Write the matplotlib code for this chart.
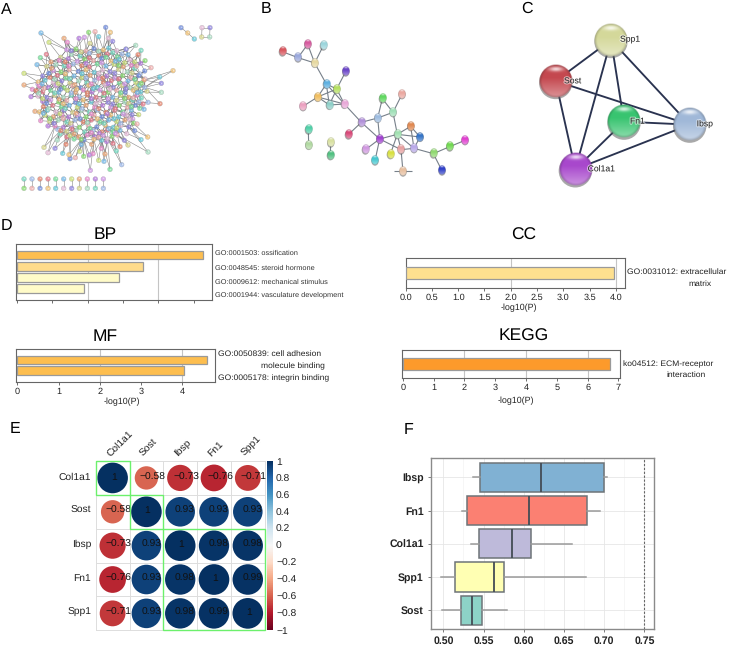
import numpy as np
import matplotlib
matplotlib.use("Agg")
import matplotlib.pyplot as plt
from matplotlib.collections import LineCollection
from matplotlib.colors import to_rgb, Normalize
from matplotlib.cm import ScalarMappable
from matplotlib.patches import Ellipse, Circle, Rectangle
import matplotlib.patheffects as pe

plt.rcParams['font.family'] = ['Liberation Sans', 'DejaVu Sans']
plt.rcParams['text.hinting'] = 'no_hinting'

W, H = 745, 646

# DATA ---------------------------------------------------------------------
# A: big network, read in a 720x645 frame
a_outer = [(123,99),(147,127),(192,115),(202,127),(237,115),(253,112),(266,97),(285,95),(317,82),
           (331,97),(296,110),(325,115),(338,124),(270,130),(407,136),(423,151),(378,147),(414,164),
           (139,163),(121,173),(111,194),(72,220),(72,255),(97,268),(93,290),(114,252),(435,182),
           (453,203),(434,213),(519,212),(479,231),(435,237),(484,250),(441,274),(484,277),(424,294),
           (444,307),(480,311),(429,312),(419,325),(432,328),(416,344),(105,334),(122,362),(144,378),
           (398,357),(401,369),(411,372),(404,392),(443,411),(423,419),(380,401),(373,421),(384,435),
           (444,456),(349,453),(365,494),(360,440),(339,430),(330,508),(312,484),(296,481),(315,462),
           (279,461),(268,465),(271,511),(251,469),(226,473),(210,476),(207,464),(188,460),(144,458),
           (165,445),(132,442),(172,420),(180,402),(173,388),(198,433),(200,411),(222,417),(244,434),
           (239,454),(275,433),(304,445),(320,425)]
a_core = [(200,149),(228,147),(258,153),(282,146),(310,150),(326,144),(350,152),(378,148),
          (182,172),(214,163),(240,168),(268,160),(296,166),(322,162),(352,170),(384,164),(404,186),
          (153,186),(178,181),(205,176),(232,184),(254,178),(280,182),(305,175),(333,183),(358,178),(390,180),
          (128,228),(140,199),(168,194),(192,198),(220,192),(245,197),(268,201),(292,192),(318,198),(342,193),(370,200),(394,196),(422,190),
          (160,212),(183,216),(208,209),(235,214),(258,209),(283,217),(308,210),(330,215),(356,208),(382,216),(404,206),(420,222),
          (150,232),(172,226),(198,234),(222,228),(246,233),(270,226),(296,235),(320,228),(344,234),(368,227),(392,233),(416,227),
          (115,246),(135,241),(160,248),(185,243),(210,249),(236,243),(260,248),(284,241),(310,247),(334,242),(358,249),(384,243),(408,248),(432,240),
          (118,258),(145,262),(168,256),(192,263),(218,257),(242,263),(266,256),(292,262),(316,255),(340,262),(366,257),(390,263),(418,256),(434,262),
          (108,272),(128,276),(152,271),(176,277),(202,271),(226,277),(250,270),(276,276),(300,270),(324,277),(350,271),(376,277),(400,271),(422,276),
          (114,288),(140,292),(164,286),(190,292),(214,286),(238,291),(262,285),(288,292),(312,286),(338,292),(362,286),(386,292),(410,286),
          (128,304),(152,300),(176,306),(200,301),(226,307),(250,300),(274,306),(300,300),(324,307),(350,301),(374,306),(398,300),(416,306),
          (130,320),(158,316),(184,321),(208,316),(232,322),(258,316),(284,322),(308,316),(332,322),(358,316),(382,322),(406,316),
          (118,336),(142,331),(168,336),(192,331),(218,337),(244,331),(268,336),(292,330),(318,337),(344,331),(368,336),(394,331),
          (135,346),(160,350),(186,345),(206,351),(232,345),(258,351),(282,345),(306,350),(332,345),(356,351),(380,346),(396,344),
          (148,364),(175,360),(200,366),(225,360),(250,366),(274,360),(300,366),(326,360),(350,365),(375,360),
          (165,378),(190,382),(214,376),(238,382),(265,376),(290,381),(316,376),(340,382),(362,377),(386,381),
          (200,394),(228,391),(254,396),(280,391),(306,396),(322,390),(338,395),(360,391),
          (210,407),(236,410),(262,405),(284,410),(310,406),(336,409),(352,405),
          (252,420),(282,418),(305,421),(322,416)]
a_core2 = [(214,152),(244,156),(296,154),(338,158),(366,162),(196,186),(268,174),(318,172),(346,184),(374,188),
           (155,205),(206,198),(258,190),(305,188),(356,196),(410,198),(146,220),(196,222),(246,221),(296,221),(344,220),(396,219),
           (164,238),(210,236),(258,234),(308,234),(356,237),(404,238),(126,252),(174,251),(224,254),(274,252),(324,251),(374,252),(424,250),
           (132,266),(182,268),(230,268),(280,266),(330,268),(378,266),(408,264),(116,280),(164,279),(214,279),(262,278),(312,280),(362,278),(412,278),
           (128,296),(178,298),(228,296),(274,296),(324,296),(374,296),(400,294),(140,310),(190,311),(238,312),(288,310),(338,312),(386,310),
           (146,326),(196,326),(246,326),(296,326),(346,326),(394,320),(130,340),(180,342),(228,340),(274,342),(322,342),(370,342),
           (150,356),(190,356),(240,356),(292,356),(342,356),(388,358),(162,370),(212,370),(262,368),(312,370),(362,370),
           (182,392),(216,388),(270,385),(326,386),(350,384),(222,402),(274,398),(298,400),(346,400),(244,418),(296,412)]
a_rows_x = [72,96,120,144,167,191,215,238,262,286,310]
a_rows_y = [537,565]
a_small_x = [543,563,583,606,630,605,629]
a_small_y = [83,99,117,83,83,111,111]
a_small_edges = [(0,1),(1,2),(3,4),(3,5),(4,6),(5,6)]
a_palette = ['#78bcea','#ec8cce','#8cdf74','#f2c47a','#9488e4','#76dac2','#e67c8c','#cde27a',
             '#b87ee0','#f2b0b0','#6accdc','#d8d88e','#a2bcec','#78e09c','#eca878','#d49aea',
             '#7490e0','#e6bcd8','#aadfc4','#e8866e']

# B: small network, read in a 750x645 frame
b_x = [127,174,203,250,224,259,290,317,233,268,313,189,364,413,427,459,486,512,472,540,419,325,376,405,
       451,483,522,580,629,675,606,489,205,206,272,271]
b_y = [155,173,133,137,189,252,267,215,291,315,312,319,367,354,296,337,283,379,403,411,417,404,449,482,
       463,449,445,461,440,421,512,515,389,435,428,466]
b_colors = ['#d9575f','#9aa8dc','#d65a9e','#9bd5dc','#e6d8a0','#5fb0e0','#b5e060','#6a45c8','#f0be60',
            '#8dcfc8','#e8a8d8','#eba0c0','#b090d8','#9dbce0','#60d860','#a0e0b8','#eba8a0','#e08850',
            '#a0e0b0','#3575c8','#a040d0','#d84878','#d098e0','#45c8d0','#d8e040','#e8a0a0','#b8a8e8',
            '#90d870','#70d850','#e040d0','#3040c8','#e8c0a0','#50d0a8','#b0d8a0','#d8e0a0','#50c080']
b_edges = [(0,1),(1,2),(1,4),(2,4),(3,4),(4,5),(5,6),(5,8),(5,9),(5,10),(6,7),(6,8),(6,9),(6,10),(8,9),
           (8,10),(8,11),(9,10),(10,12),(12,13),(12,20),(12,21),(13,14),(13,15),(14,15),(15,16),(13,20),
           (15,18),(18,17),(17,19),(18,19),(18,20),(20,22),(20,23),(20,25),(18,25),(18,26),(19,26),(17,26),
           (25,26),(26,27),(27,28),(28,29),(27,30),(25,31),(32,33),(34,35),(24,18)]

# C: five genes, read in a 735x645 frame
c_genes = ['Spp1','Sost','Fn1','Ibsp','Col1a1']
c_x = [333,167,372,569,226]
c_y = [120,243,365,374,508]
c_colors = ['#d4d89a','#c4484f','#38c470','#a0b8d8','#a848cc']
c_label_x = [360,192,390,590,263]
c_label_y = [118,243,364,372,507]
c_edges = [(0,1),(0,4),(0,2),(0,3),(1,3),(1,4),(2,3),(2,4),(4,3)]

# D: enrichment bars
bp_terms = ['GO:0001503: ossification','GO:0048545: steroid hormone','GO:0009612: mechanical stimulus','GO:0001944: vasculature development']
bp_vals = [5.27,3.56,2.88,1.89]
bp_cols = ['#fdbe4f','#fedb8b','#fffbc8','#fffbc8']
mf_vals = [4.59,4.05]
mf_cols = ['#fdbe4f','#fdbe4f']
cc_vals = [3.96]
cc_cols = ['#fee08f']
kegg_vals = [6.74]
kegg_cols = ['#fd9a2b']

# E: correlation matrix
genes = ['Col1a1','Sost','Ibsp','Fn1','Spp1']
corr = [[1,-0.58,-0.73,-0.76,-0.71],
        [-0.58,1,0.93,0.93,0.93],
        [-0.73,0.93,1,0.98,0.98],
        [-0.76,0.93,0.98,1,0.99],
        [-0.71,0.93,0.98,0.99,1]]
cbar_ticks = [-1,-0.8,-0.6,-0.4,-0.2,0,0.2,0.4,0.6,0.8,1]
cbar_labels = ['\u22121','\u22120.8','\u22120.6','\u22120.4','\u22120.2','0','0.2','0.4','0.6','0.8','1']
clusters = [(0,1),(1,2),(2,5)]

# F: boxplot
box_genes = ['Ibsp','Fn1','Col1a1','Spp1','Sost']
box_low = [0.5369,0.5236,0.5344,0.4971,0.4983]
box_q1 = [0.546,0.529,0.5448,0.5149,0.5216]
box_med = [0.6215,0.6061,0.5854,0.563,0.5361]
box_q3 = [0.6994,0.6787,0.6086,0.575,0.5477]
box_high = [0.7032,0.6944,0.66,0.678,0.5796]
box_cols = ['#80b1d3','#fb8072','#bebada','#ffffb3','#8dd3c7']
box_ticks = [0.50,0.55,0.60,0.65,0.70,0.75]

# HELPERS ------------------------------------------------------------------
fig = plt.figure(figsize=(W/100, H/100), dpi=100)

def ax_px(x0, y0, x1, y1):
    return fig.add_axes([x0/W, 1 - y1/H, (x1 - x0)/W, (y1 - y0)/H])

def txt(x, y, s, **kw):
    kw.setdefault('va', 'center')
    return fig.text(x/W, 1 - y/H, s, **kw)

def net_ax(x0, x1, xmax):
    ax = ax_px(x0, 0, x1, 215)
    ax.set_xlim(0, xmax)
    ax.set_ylim(645, 0)
    ax.axis('off')
    return ax

def sphere(ax, x, y, rx, ry, color, n=48):
    # glossy ball like the STRING nodes
    yy, xx = np.mgrid[-1:1:n*1j, -1:1:n*1j]
    rr = np.sqrt(xx**2 + yy**2)
    base = np.array(to_rgb(color))
    light = np.clip((yy + 0.2)/1.2, 0, 1)[..., None]*0.42
    img = base*(1 - light) + light
    img = img*(1 - 0.22*np.clip((rr - 0.82)/0.18, 0, 1))[..., None]
    glow = np.exp(-((xx/0.42)**2 + ((yy + 0.72)/0.14)**2))[..., None]
    img = img*(1 - 0.8*glow) + 0.8*glow
    rgba = np.dstack([img, np.clip((1 - rr)*n/2, 0, 1)])
    ax.add_patch(Ellipse((x, y + ry*0.09), 2*rx*1.0, 2*ry, fc='#555555', ec='none', alpha=0.5, zorder=2))
    ax.imshow(rgba, extent=(x - rx, x + rx, y + ry, y - ry), zorder=3, aspect='auto', interpolation='bilinear')

def bars(ax, vals, cols, height, ylim, xlim, ticks, grid, labels=True):
    ax.barh(range(len(vals)), vals, height=height, color=cols, edgecolor='#9a9a9a', linewidth=0.9, zorder=3)
    ax.set_xlim(*xlim)
    ax.set_ylim(*ylim)
    ax.set_yticks([])
    ax.set_xticks(ticks)
    ax.tick_params(axis='x', length=2, width=0.6, color='#555555', pad=2, labelsize=6.6,
                   labelcolor='#222222', labelbottom=labels)
    for g in grid:
        ax.axvline(g, color='#c4c4c4', lw=0.8, zorder=1)
    for s in ax.spines.values():
        s.set_color('#666666')
        s.set_linewidth(0.8)

# PANEL A ------------------------------------------------------------------
ax = net_ax(0, 240, 720)
main = np.array(a_outer + a_core + a_core2, dtype=float)
n_outer = len(a_outer)
segs = []
for i in range(len(main)):
    # las puntas se enganchan al nucleo, el nucleo a sus vecinos
    start = n_outer if i < n_outer else 0
    d = np.hypot(*(main[start:] - main[i]).T)
    d[d == 0] = 1e9
    near = np.argsort(d)[:2 if i < n_outer else 7] + start
    segs += [(main[i], main[j]) for j in near]
segs += [((a_small_x[p], a_small_y[p]), (a_small_x[q], a_small_y[q])) for p, q in a_small_edges]
segs += [((x, a_rows_y[0]), (x, a_rows_y[1])) for x in a_rows_x]
ax.add_collection(LineCollection(segs, colors='#707070', linewidths=0.4, alpha=0.85, zorder=1))
all_x = list(main[:, 0]) + a_small_x + a_rows_x*2
all_y = list(main[:, 1]) + a_small_y + [a_rows_y[0]]*11 + [a_rows_y[1]]*11
all_c = [a_palette[k*7 % len(a_palette)] for k in range(len(all_x))]
ax.scatter(all_x, all_y, s=12, c=all_c, edgecolors='#909090', linewidths=0.2, alpha=0.8, zorder=2)
ax.scatter(all_x, np.array(all_y) - 2.5, s=1.2, c='white', alpha=0.5, linewidths=0, zorder=3)

# PANEL B ------------------------------------------------------------------
ax = net_ax(240, 490, 750)
segs = [((b_x[p], b_y[p]), (b_x[q], b_y[q])) for p, q in b_edges]
segs.append(((463, 513), (517, 513)))
ax.add_collection(LineCollection(segs, colors='#77808a', linewidths=0.8, zorder=1))
for x, y, c in zip(b_x, b_y, b_colors):
    sphere(ax, x, y, 11, 14, c, n=24)
ax.set_xlim(0, 750)
ax.set_ylim(645, 0)

# PANEL C ------------------------------------------------------------------
ax = net_ax(500, 745, 735)
segs = [((c_x[p], c_y[p]), (c_x[q], c_y[q])) for p, q in c_edges]
ax.add_collection(LineCollection(segs, colors='#2a3350', linewidths=1.35, zorder=1))
for x, y, c in zip(c_x, c_y, c_colors):
    sphere(ax, x, y, 50, 50, c)
ax.set_xlim(0, 735)
ax.set_ylim(645, 0)
halo = [pe.withStroke(linewidth=1.5, foreground='white', alpha=0.55)]
for g, x, y in zip(c_genes, c_label_x, c_label_y):
    ax.text(x, y, g, fontsize=6.2, color='#2b2b2b', va='center', zorder=5, path_effects=halo)

# PANEL D ------------------------------------------------------------------
ax = ax_px(16.3, 244, 212.3, 300.3)
bars(ax, bp_vals, bp_cols, 0.8, (4.04, -0.98), (-0.02, 5.53), [0,1,2,3,4,5], [2,4], labels=False)
for t, y in zip(bp_terms, [253, 268, 282, 295]):
    txt(215, y, t, fontsize=5.3, color='#333333')

ax = ax_px(16.3, 349, 215, 381.7)
bars(ax, mf_vals, mf_cols, 0.84, (2.03, -1.03), (-0.025, 4.79), [0,1,2,3,4], [2,4])
txt(218, 354, 'GO:0050839: cell adhesion', fontsize=6.1, color='#222222')
txt(261, 366, 'molecule binding', fontsize=6.1, color='#222222')
txt(218, 378, 'GO:0005178: integrin binding', fontsize=6.1, color='#222222')
txt(122, 402, '-log10(P)', fontsize=6.4, ha='center', color='#222222')

ax = ax_px(405.7, 258.3, 624.7, 287.7)
bars(ax, cc_vals, cc_cols, 0.386, (-0.5, 0.5), (0, 4.17), [0,0.5,1,1.5,2,2.5,3,3.5,4], [2,4])
ax.set_xticklabels(['0.0','0.5','1.0','1.5','2.0','2.5','3.0','3.5','4.0'])
txt(626.7, 272, 'GO:0031012: extracellular', fontsize=6.1, color='#222222')
txt(688, 283.7, 'matrix', fontsize=6.1, color='#222222')
txt(519, 307.7, '-log10(P)', fontsize=6.4, ha='center', color='#222222')

ax = ax_px(402.3, 350.3, 620.3, 378.3)
bars(ax, kegg_vals, kegg_cols, 0.43, (-0.5, 0.5), (-0.02, 7.06), [0,1,2,3,4,5,6,7], [2,4,6])
txt(623, 364, 'ko04512: ECM-receptor', fontsize=6.1, color='#222222')
txt(666, 375, 'interaction', fontsize=6.1, color='#222222')
txt(515.7, 401, '-log10(P)', fontsize=6.4, ha='center', color='#222222')

for s, x, y in [('BP',105,235),('CC',524,235),('MF',105,336.7),('KEGG',524,336.7)]:
    txt(x, y, s, fontsize=12.5, ha='center')

# PANEL E ------------------------------------------------------------------
ax = ax_px(95.7, 461, 264.7, 630.3)
cmap = plt.get_cmap('RdBu')
norm = Normalize(-1, 1)
ax.set_xlim(0, 5)
ax.set_ylim(5, 0)
ax.set_xticks([])
ax.set_yticks([])
for s in ax.spines.values():
    s.set_visible(False)
for k in range(6):
    ax.plot([k, k], [0, 5], color='#dddddd', lw=0.7, zorder=1, clip_on=False)
    ax.plot([0, 5], [k, k], color='#dddddd', lw=0.7, zorder=1, clip_on=False)
for r, row in enumerate(corr):
    for c, v in enumerate(row):
        ax.add_patch(Circle((c + 0.5, r + 0.5), 0.453*abs(v)**0.5, fc=cmap(norm(v)), ec='none', zorder=2))
        lab = '1' if v == 1 else ('%.2f' % v).replace('-', '\u2212')
        shift = {1: 0.03, 4: 0.14, 5: 0.18}[len(lab)]
        ax.text(c + 0.5 + shift, r + 0.47, lab, ha='center', va='center', fontsize=7.4, color='#111111', zorder=4)
for a, b in clusters:
    ax.add_patch(Rectangle((a, a), b - a, b - a, fc='none', ec='#6cf06c', lw=1, zorder=5, clip_on=False))
for k, g in enumerate(genes):
    txt(91, 461 + 33.86*(k + 0.5) - 1, g, fontsize=7.4, ha='right', color='#222222')
    txt(111.5 + 33.86*k, 458.5, g, fontsize=7.4, rotation=45, rotation_mode='anchor', ha='left',
        va='bottom', color='#222222')

cax = ax_px(267.3, 461, 273.3, 630.3)
cb = fig.colorbar(ScalarMappable(norm=norm, cmap=cmap), cax=cax, ticks=cbar_ticks)
cb.ax.set_yticklabels(cbar_labels)
cb.ax.tick_params(length=0, labelsize=7.4, pad=2, labelcolor='#222222')
cb.outline.set_visible(False)

# PANEL F ------------------------------------------------------------------
ax = ax_px(430.7, 458.3, 654.3, 629)
stats = [dict(med=m, q1=a, q3=b, whislo=l, whishi=h, fliers=[])
         for m, a, b, l, h in zip(box_med, box_q1, box_q3, box_low, box_high)]
pos = [5, 4, 3, 2, 1]
for x in [0.525,0.575,0.625,0.675,0.725]:
    ax.axvline(x, color='#f3f3f3', lw=0.5, zorder=0)
for x in box_ticks:
    ax.axvline(x, color='#e6e6e6', lw=0.6, zorder=0)
for y in pos:
    ax.axhline(y, color='#e6e6e6', lw=0.6, zorder=0)
bp = ax.bxp(stats, positions=pos, orientation='horizontal', widths=0.88, patch_artist=True, showcaps=False,
            showfliers=False, boxprops=dict(edgecolor='#6e7478', linewidth=1.1),
            medianprops=dict(color='#444c55', linewidth=1.3),
            whiskerprops=dict(color='#9a9a9a', linewidth=1.1), zorder=3)
for p, c in zip(bp['boxes'], box_cols):
    p.set_facecolor(c)
ax.axvline(0.75, color='#666666', lw=0.8, ls=(0, (2, 1.5)), zorder=2)
ax.set_xlim(0.4842, 0.7624)
ax.set_ylim(0.44, 5.57)
ax.set_xticks(box_ticks)
ax.set_xticklabels(['%.2f' % x for x in box_ticks], fontweight='bold')
ax.set_yticks(pos)
ax.set_yticklabels(box_genes, fontweight='bold')
ax.tick_params(length=2, width=0.6, color='#666666', labelsize=7.6, pad=3, labelcolor='#222222')
for s in ax.spines.values():
    s.set_color('#8a8a8a')
    s.set_linewidth(1)

# LETRAS -------------------------------------------------------------------
for s, x, y in [('A',1,10),('B',260.7,9),('C',520.7,9),('D',1,225.7),('E',10,429),('F',404,430)]:
    txt(x, y, s, fontsize=11.5)

fig.savefig('out.png', dpi=100)
